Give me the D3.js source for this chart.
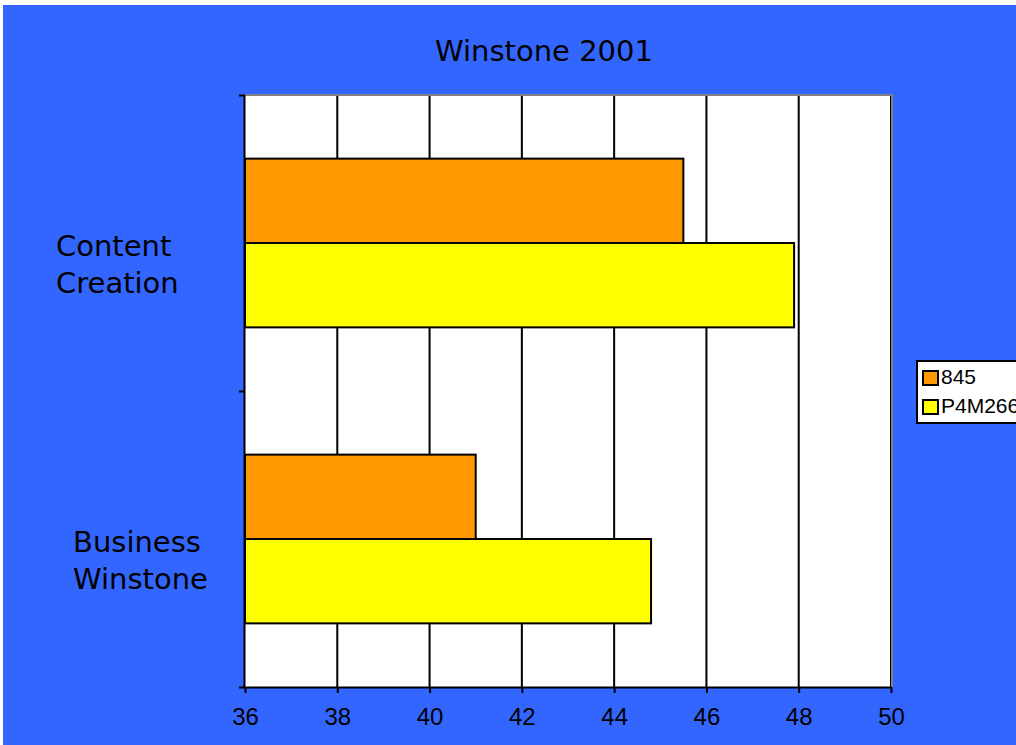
<!DOCTYPE html>
<html>
<head>
<meta charset="utf-8">
<script src="https://cdn.jsdelivr.net/npm/d3@7"></script>
<style>
  html, body { margin: 0; padding: 0; background: #ffffff; }
  svg { display: block; }
</style>
</head>
<body>
<svg id="chart" width="1016" height="745"></svg>
<script>
// ---- data ----
const title = "Winstone 2001";
const categories = ["Content Creation", "Business Winstone"];
const categoryLines = [["Content", "Creation"], ["Business", "Winstone"]];
const seriesNames = ["845", "P4M266"];
const series845 = [45.5, 41.0];
const seriesP4M266 = [47.9, 44.8];
const xTicks = [36, 38, 40, 42, 44, 46, 48, 50];

// ---- styles / layout ----
const colors = { "845": "#FF9900", "P4M266": "#FFFF00" };
const bg = "#3366FF";
const plot = { left: 245, right: 891, top: 95, bottom: 687 };
const labelLeft = [56, 73];

const svg = d3.select("#chart");

svg.append("rect").attr("x", 3).attr("y", 5).attr("width", 1013).attr("height", 740).attr("fill", bg);

const x = d3.scaleLinear().domain([36, 50]).range([plot.left, plot.right]);
const y = d3.scaleBand().domain(categories).range([plot.top, plot.bottom])
  .paddingInner(0.43).paddingOuter(0.215);
const ySub = d3.scaleBand().domain(seriesNames).range([0, y.bandwidth()]);
const yBound = d3.scaleLinear().domain([0, categories.length]).range([plot.top, plot.bottom]);

// plot area
svg.append("rect").attr("x", plot.left).attr("y", plot.top)
  .attr("width", plot.right - plot.left).attr("height", plot.bottom - plot.top)
  .attr("fill", "#ffffff");

// gridlines
svg.append("g").selectAll("line").data(xTicks.slice(1)).join("line")
  .attr("x1", d => x(d)).attr("x2", d => x(d))
  .attr("y1", plot.top).attr("y2", plot.bottom)
  .attr("stroke", "#000").attr("stroke-width", 2);

// plot border top/right (gray)
svg.append("path")
  .attr("d", `M${plot.left},${plot.top}H${plot.right + 1}V${plot.bottom}`)
  .attr("fill", "none").attr("stroke", "#808080").attr("stroke-width", 2);

// bars
const data = [];
categories.forEach((c, i) => {
  data.push({ cat: c, s: "845", v: series845[i] });
  data.push({ cat: c, s: "P4M266", v: seriesP4M266[i] });
});
svg.append("g").selectAll("rect").data(data).join("rect")
  .attr("x", x(36))
  .attr("y", d => y(d.cat) + ySub(d.s))
  .attr("width", d => x(d.v) - x(36))
  .attr("height", ySub.bandwidth())
  .attr("fill", d => colors[d.s])
  .attr("stroke", "#000").attr("stroke-width", 2);

// x axis
const xAxis = svg.append("g").attr("transform", `translate(0,${plot.bottom})`)
  .call(d3.axisBottom(x).tickValues(xTicks).tickSize(6).tickSizeOuter(0).tickFormat(d3.format("d")));
xAxis.select(".domain").attr("stroke", "#000").attr("stroke-width", 2);
xAxis.selectAll(".tick line").attr("stroke", "#000").attr("stroke-width", 2);
xAxis.selectAll(".tick text")
  .attr("font-family", "'Liberation Sans', Arial, sans-serif")
  .attr("font-size", 24).attr("fill", "#000")
  .attr("y", 38).attr("dy", null);

// y axis (ticks at category boundaries)
const yAxis = svg.append("g").attr("transform", `translate(${plot.left},0)`)
  .call(d3.axisLeft(yBound).tickValues(d3.range(categories.length + 1)).tickSize(6).tickSizeOuter(0).tickFormat(""));
yAxis.select(".domain").attr("stroke", "#000").attr("stroke-width", 2).attr("transform", "translate(-1,0)");
yAxis.selectAll(".tick line").attr("stroke", "#000").attr("stroke-width", 2);

// category labels
categories.forEach((c, i) => {
  const cy = y(c) + y.bandwidth() / 2;
  const t = svg.append("text")
    .attr("font-family", "'DejaVu Sans', Verdana, sans-serif")
    .attr("font-size", 29).attr("fill", "#000")
    .attr("text-anchor", "start");
  categoryLines[i].forEach((line, j) => {
    t.append("tspan").attr("x", labelLeft[i])
      .attr("y", cy + 13 + j * 37)
      .text(line);
  });
});

// title
svg.append("text").attr("x", 544).attr("y", 61)
  .attr("text-anchor", "middle")
  .attr("font-family", "'DejaVu Sans', Verdana, sans-serif")
  .attr("font-size", 29).attr("fill", "#000")
  .text(title);

// legend
const lg = svg.append("g");
lg.append("rect").attr("x", 917).attr("y", 361).attr("width", 110).attr("height", 62)
  .attr("fill", "#fff").attr("stroke", "#000").attr("stroke-width", 2);
seriesNames.forEach((s, i) => {
  const yy = 371 + i * 29;
  lg.append("rect").attr("x", 923).attr("y", yy).attr("width", 15).attr("height", 14)
    .attr("fill", colors[s]).attr("stroke", "#000").attr("stroke-width", 2);
  lg.append("text").attr("x", 941).attr("y", yy + 13)
    .attr("font-family", "'Liberation Sans', Arial, sans-serif")
    .attr("font-size", 21).attr("fill", "#000").text(s);
});
</script>
</body>
</html>
